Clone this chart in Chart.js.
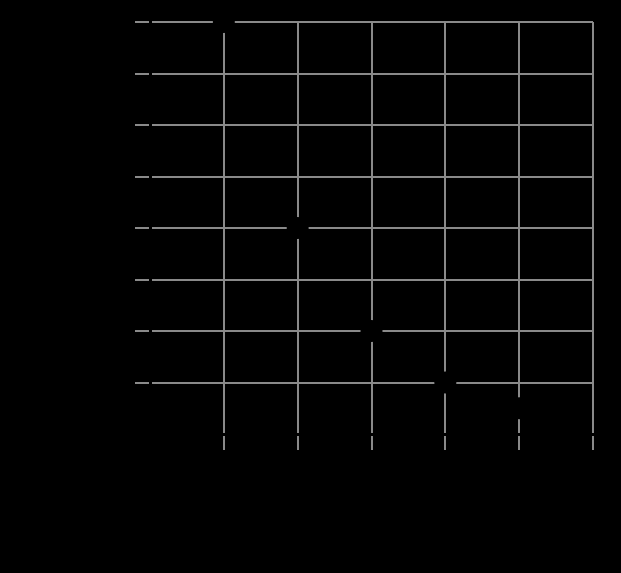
<!DOCTYPE html>
<html>
<head>
<meta charset="utf-8">
<script src="https://cdn.jsdelivr.net/npm/chart.js@4/dist/chart.umd.min.js"></script>
<style>
    html, body { margin: 0; padding: 0; background: #000; }
    #wrap { width: 621px; height: 573px; }
</style>
</head>
<body>
<div id="wrap"><canvas id="myChart" width="621" height="573"></canvas></div>
<script>
// data
const xValues = [1, 2, 3, 4, 5];
const yValues = [8, 4, 2, 1, 0.5];
const xTicks = [0, 1, 2, 3, 4, 5, 6];
const yTicks = [0, 1, 2, 3, 4, 5, 6, 7, 8];

const gridGray = "#8a8a8a";
const gridColor = c => (c.tick && c.tick.value === 0 ? "#000" : gridGray);

const points = xValues.map((x, i) => ({ x: x, y: yValues[i] }));

const ctx = document.getElementById("myChart").getContext("2d");
new Chart(ctx, {
    type: "scatter",
    data: {
        datasets: [{
            data: points,
            backgroundColor: "#000",
            borderWidth: 0,
            pointRadius: 11,
            pointHoverRadius: 11,
            clip: false
        }]
    },
    options: {
        responsive: false,
        animation: false,
        events: [],
        layout: { padding: { top: 22, right: 28, left: 0, bottom: 0 } },
        plugins: { legend: { display: false }, tooltip: { enabled: false } },
        scales: {
            x: {
                type: "linear",
                min: xTicks[0],
                max: xTicks[xTicks.length - 1],
                afterBuildTicks: s => { s.ticks = xTicks.map(v => ({ value: v })); },
                afterFit: s => { s.height = 139; },
                grid: { color: gridColor, lineWidth: 2, tickLength: 16 },
                border: { color: "#000", width: 3 },
                ticks: { color: "#000", font: { size: 16 } }
            },
            y: {
                type: "linear",
                min: yTicks[0],
                max: yTicks[yTicks.length - 1],
                afterBuildTicks: s => { s.ticks = yTicks.map(v => ({ value: v })); },
                afterFit: s => { s.width = 150; },
                grid: { color: gridColor, lineWidth: 2, tickLength: 15 },
                border: { color: "#000", width: 3 },
                ticks: { color: "#000", font: { size: 16 } }
            }
        }
    }
});
</script>
</body>
</html>
